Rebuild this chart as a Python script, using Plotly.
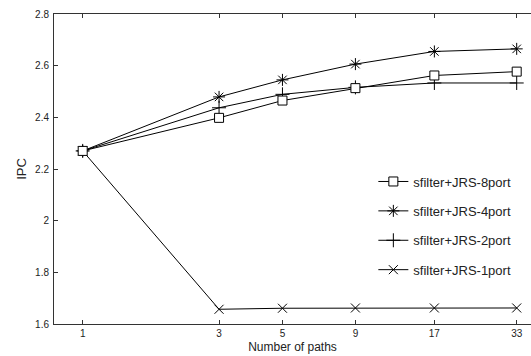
import plotly.graph_objects as go

paths = [1, 3, 5, 9, 17, 33]
tick_labels = ["1", "3", "5", "9", "17", "33"]
ipc_8port = [2.27, 2.398, 2.465, 2.513, 2.562, 2.577]
ipc_4port = [2.27, 2.479, 2.545, 2.606, 2.655, 2.665]
ipc_2port = [2.27, 2.437, 2.489, 2.516, 2.533, 2.533]
ipc_1port = [2.27, 1.657, 1.661, 1.662, 1.662, 1.662]

series = [
    ("sfilter+JRS-1port", ipc_1port, "x-thin-open", 9, 4),
    ("sfilter+JRS-2port", ipc_2port, "cross-thin-open", 10, 3),
    ("sfilter+JRS-4port", ipc_4port, "asterisk-open", 10, 2),
    ("sfilter+JRS-8port", ipc_8port, "square", 9, 1),
]

fig = go.Figure()
for name, vals, sym, size, rank in series:
    fig.add_trace(go.Scatter(
        x=paths, y=vals, name=name, mode="lines+markers",
        legendgroup=name, legendrank=rank,
        line=dict(color="black", width=1),
        marker=dict(symbol=sym, size=size,
                    color="white" if sym == "square" else "black",
                    line=dict(color="black", width=1)),
    ))

axis_common = dict(
    showline=True, linecolor="#333", linewidth=1,
    ticks="inside", ticklen=4, tickcolor="#333",
    showgrid=False, zeroline=False,
    tickfont=dict(family="Liberation Sans, Arial", size=10, color="#222"),
)

fig.update_xaxes(
    type="log", range=[-0.1004, 1.5686],
    tickvals=paths, ticktext=tick_labels, mirror="ticks",
    title=dict(text="Number of paths", standoff=4,
               font=dict(family="Liberation Sans, Arial", size=12, color="#222")),
    **axis_common,
)
fig.update_yaxes(
    range=[1.6, 2.8], tickvals=[1.6, 1.8, 2.0, 2.2, 2.4, 2.6, 2.8],
    ticktext=["1.6", "1.8", "2", "2.2", "2.4", "2.6", "2.8"],
    mirror=False, ticklabelstandoff=2,
    title=dict(text="IPC", standoff=5,
               font=dict(family="Liberation Sans, Arial", size=13, color="#222")),
    **axis_common,
)

fig.update_layout(
    width=531, height=356,
    margin=dict(l=54, r=0, t=14, b=32),
    paper_bgcolor="white", plot_bgcolor="white",
    showlegend=True,
    legend=dict(
        x=0.6695, y=0.508, xanchor="left", yanchor="top",
        bgcolor="rgba(0,0,0,0)", borderwidth=0,
        font=dict(family="Liberation Sans, Arial", size=13, color="#222"),
        itemwidth=30, tracegroupgap=9.5,
    ),
)

fig.write_html("out.html")
